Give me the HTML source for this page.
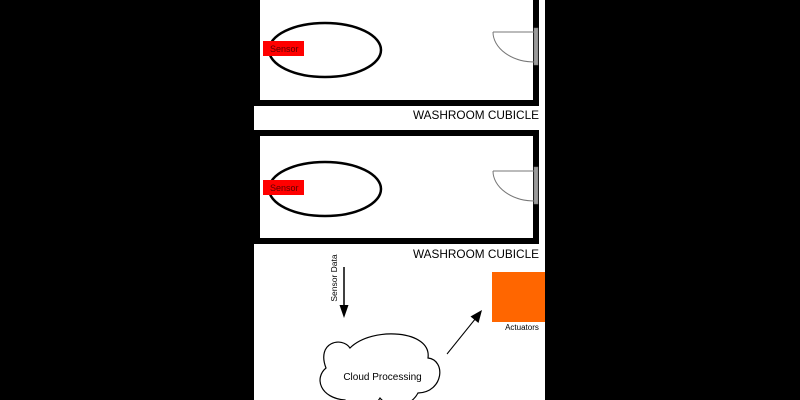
<!DOCTYPE html>
<html>
<head>
<meta charset="utf-8">
<style>
  html, body { margin: 0; padding: 0; background: #000; }
  body { width: 800px; height: 400px; overflow: hidden; }
  svg { display: block; }
  text { font-family: "Liberation Sans", Arial, sans-serif; }
</style>
</head>
<body>
<svg width="800" height="400" viewBox="0 0 800 400" xmlns="http://www.w3.org/2000/svg">
  <rect x="0" y="0" width="800" height="400" fill="#000"/>
  <rect x="254" y="0" width="291" height="400" fill="#fff"/>

  <!-- Cubicle 1 -->
  <rect x="257" y="-6" width="279" height="109" fill="#fff" stroke="#000" stroke-width="6"/>
  <ellipse cx="325" cy="50" rx="56" ry="27" fill="none" stroke="#000" stroke-width="2.5"/>
  <rect x="263" y="41" width="41" height="15" fill="#ff0000"/>
  <text x="270" y="52" font-size="9" fill="#5a0000">Sensor</text>
  <line x1="493" y1="32" x2="535" y2="32" stroke="#777" stroke-width="1"/>
  <path d="M 493 32 A 42 30 0 0 0 535 62" fill="none" stroke="#777" stroke-width="1"/>
  <rect x="534" y="28" width="4" height="37" fill="#9a9a9a" stroke="#777" stroke-width="0.5"/>
  <text x="539" y="119" font-size="11.8" fill="#000" text-anchor="end">WASHROOM CUBICLE</text>

  <!-- Cubicle 2 -->
  <rect x="257" y="133" width="279" height="108" fill="#fff" stroke="#000" stroke-width="6"/>
  <ellipse cx="325" cy="189" rx="56" ry="27" fill="none" stroke="#000" stroke-width="2.5"/>
  <rect x="263" y="180" width="41" height="15" fill="#ff0000"/>
  <text x="270" y="191" font-size="9" fill="#5a0000">Sensor</text>
  <line x1="493" y1="171" x2="535" y2="171" stroke="#777" stroke-width="1"/>
  <path d="M 493 171 A 42 30 0 0 0 535 201" fill="none" stroke="#777" stroke-width="1"/>
  <rect x="534" y="167" width="4" height="37" fill="#9a9a9a" stroke="#777" stroke-width="0.5"/>
  <text x="539" y="258" font-size="11.8" fill="#000" text-anchor="end">WASHROOM CUBICLE</text>

  <!-- Sensor Data arrow -->
  <text x="0" y="0" font-size="8.5" fill="#000" text-anchor="middle" transform="translate(337 278) rotate(-90)">Sensor Data</text>
  <line x1="344" y1="267" x2="344" y2="306" stroke="#000" stroke-width="1.5"/>
  <polygon points="339.5,305 348.5,305 344,318" fill="#000"/>

  <!-- Cloud -->
  <path d="M 350 348
           C 342 336 316 342 326 368
           C 314 378 320 398 345 400
           C 358 412 374 408 380 398
           C 390 410 410 408 418 393
           C 444 392 446 360 428 358
           C 432 330 372 326 350 348 Z"
        fill="#fff" stroke="#000" stroke-width="1.2"/>
  <text x="382.5" y="380" font-size="10" fill="#000" text-anchor="middle">Cloud Processing</text>

  <!-- Diagonal arrow -->
  <line x1="447" y1="354" x2="476" y2="318" stroke="#000" stroke-width="1"/>
  <polygon points="482,310 478.5,323 470.5,316.5" fill="#000"/>

  <!-- Actuators -->
  <rect x="492" y="272" width="53" height="50" fill="#ff6600"/>
  <text x="522" y="330" font-size="8" fill="#000" text-anchor="middle">Actuators</text>

  <rect x="545" y="0" width="255" height="400" fill="#000"/>
</svg>
</body>
</html>
